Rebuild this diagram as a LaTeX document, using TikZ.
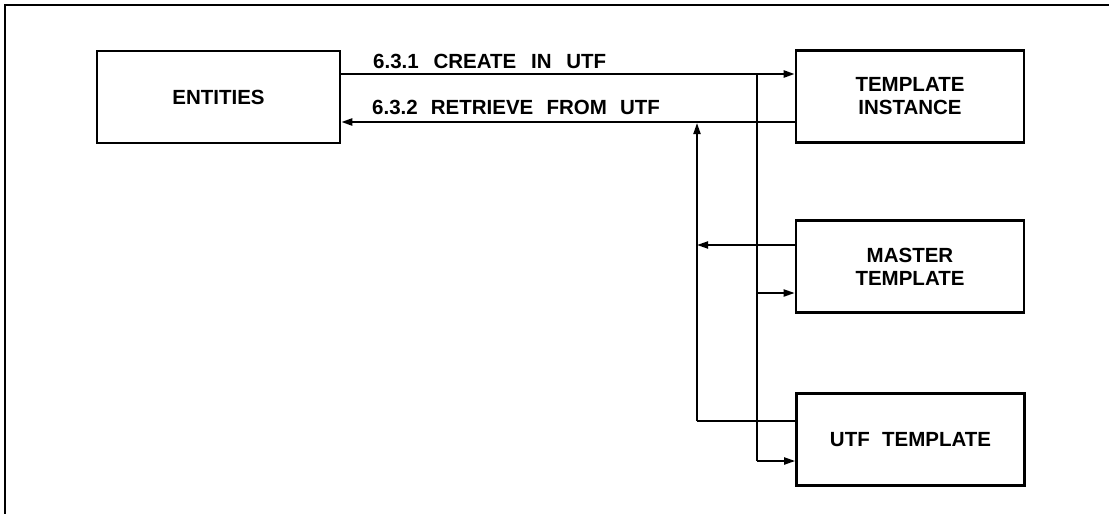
\documentclass[tikz,border=0pt]{standalone}
\usepackage{fontspec}
\setmainfont{Liberation Sans}
\usetikzlibrary{arrows.meta,calc}
\begin{document}
\begin{tikzpicture}[x=1pt,y=-1pt,
  box/.style={draw,line width=2.6pt,minimum width=#1,minimum height=92pt,inner sep=0pt,
    align=center,font=\fontsize{20.5}{23}\selectfont\bfseries},
  box/.default=228pt,
  conn/.style={line width=1.9pt},
  hconn/.style={line width=2.3pt},
  arr/.style={conn,-{Triangle[length=11pt,width=7pt]}},
  harr/.style={hconn,-{Triangle[length=11pt,width=7pt]}},
  lbl/.style={anchor=base west,inner sep=0pt,font=\fontsize{20.5}{23}\selectfont\bfseries}]
\useasboundingbox (0,0) rectangle (1109,514);
% frame
\draw[line width=2pt] (5,514) -- (5,5) -- (1109,5);
% boxes
\node[box=243pt] (ent) at (218.5,97) {ENTITIES};
\node[box] (ti) at (910,96.5) {TEMPLATE\\INSTANCE};
\node[box] (mt) at (910,266.5) {MASTER\\TEMPLATE};
\node[box] (ut) at (910.5,439.5) {UTF\hspace{0.6em}TEMPLATE};
% junction coordinates
\coordinate (j1) at (757,74);
\coordinate (j2) at (757,293);
\coordinate (j3) at (757,461);
\coordinate (r1) at (697,122);
\coordinate (r2) at (697,245);
\coordinate (r3) at (697,421);
% main flows
\draw[harr] (ent.east |- j1) -- (ti.west |- j1);
\draw[harr] (ti.west |- r1) -- (ent.east |- r1);
\node[lbl] (l1) at (373,68) {6.3.1\hspace{0.72em}CREATE\hspace{0.72em}IN\hspace{0.72em}UTF};
\node[lbl] (l2) at (372,114) {6.3.2\hspace{0.64em}RETRIEVE\hspace{0.64em}FROM\hspace{0.64em}UTF};
% distribution line
\draw[conn] (j1) -- (j3);
\draw[arr] (j2) -- (mt.west |- j2);
\draw[arr] (j3) -- (ut.west |- j3);
% return line
\draw[arr] (mt.west |- r2) -- (r2);
\draw[conn] (ut.west |- r3) -- (r3);
\draw[arr] (r3) -- ($(r1)+(0,1)$);
\end{tikzpicture}
\end{document}
